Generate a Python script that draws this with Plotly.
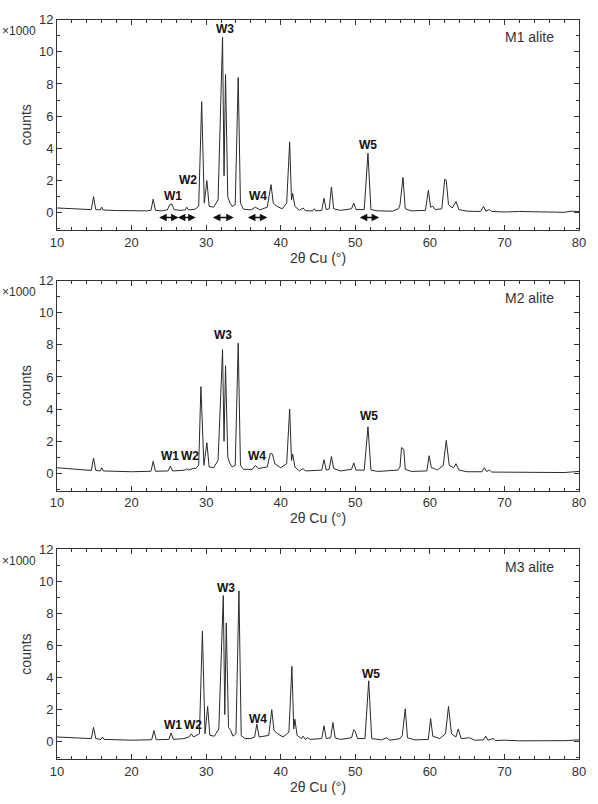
import plotly.graph_objects as go

# ---------------- data (counts in thousands) ----------------
m1_x = [10.0, 12.0, 13.5, 14.6, 14.9, 15.2, 15.8, 16.0, 16.2, 18.0, 20.0, 22.0, 22.6, 22.9, 23.2, 24.0,
        24.8, 25.1, 25.4, 25.7, 26.5, 27.2, 27.4, 27.6, 28.5, 29.0, 29.4, 29.75, 30.1, 30.4, 31.0, 31.6,
        32.2, 32.4, 32.6, 32.9, 33.2, 33.5, 33.9, 34.3, 34.6, 35.0, 36.0, 36.6, 37.2, 38.2, 38.7, 39.0,
        39.5, 40.2, 40.8, 41.2, 41.45, 41.6, 41.9, 42.5, 43.0, 43.3, 44.3, 44.5, 44.7, 45.5, 45.8, 46.1,
        46.5, 46.8, 47.1, 48.0, 49.5, 49.8, 50.1, 51.2, 51.7, 52.1, 53.0, 55.0, 55.8, 56.0, 56.4, 56.7,
        57.5, 59.4, 59.8, 60.1, 60.4, 60.7, 61.6, 62.0, 62.2, 62.5, 63.0, 63.5, 63.9, 65.0, 66.8, 67.2,
        67.5, 68.0, 68.3, 70.0, 72.0, 75.0, 78.0, 79.0, 80.0]
m1_y = [0.30, 0.28, 0.22, 0.20, 1.00, 0.20, 0.18, 0.35, 0.17, 0.14, 0.12, 0.12, 0.15, 0.85, 0.15, 0.12,
        0.18, 0.50, 0.55, 0.20, 0.15, 0.18, 0.35, 0.18, 0.22, 0.40, 6.90, 0.60, 2.00, 0.40, 0.35, 0.80,
        10.90, 2.30, 8.60, 1.00, 0.60, 0.40, 0.50, 8.40, 0.60, 0.22, 0.18, 0.35, 0.18, 0.35, 1.75, 0.60,
        0.40, 0.25, 0.60, 4.40, 0.80, 1.20, 0.40, 0.15, 0.30, 0.13, 0.12, 0.25, 0.12, 0.15, 0.90, 0.20,
        0.25, 1.60, 0.25, 0.15, 0.25, 0.60, 0.20, 0.20, 3.70, 0.20, 0.12, 0.10, 0.25, 0.50, 2.20, 0.25,
        0.12, 0.15, 1.40, 0.35, 0.40, 0.20, 0.25, 2.10, 2.00, 0.50, 0.30, 0.70, 0.20, 0.10, 0.08, 0.40,
        0.10, 0.20, 0.08, 0.05, 0.08, 0.05, 0.03, 0.10, 0.08]

m2_x = [10.0, 12.0, 14.6, 14.9, 15.2, 15.8, 16.0, 16.2, 18.0, 20.0, 22.6, 22.9, 23.2, 24.0, 24.9, 25.2,
        25.5, 27.2, 27.4, 27.6, 28.0, 28.2, 28.6, 29.0, 29.3, 29.7, 30.1, 30.4, 31.0, 31.6, 32.2, 32.4,
        32.6, 32.9, 33.2, 33.5, 33.9, 34.3, 34.6, 35.0, 36.2, 36.6, 37.0, 38.2, 38.6, 38.9, 39.2, 40.0,
        40.8, 41.2, 41.45, 41.6, 41.9, 42.5, 43.0, 43.3, 45.5, 45.8, 46.1, 46.5, 46.8, 47.1, 48.0, 49.5,
        49.8, 50.1, 51.2, 51.7, 52.1, 53.0, 55.7, 56.0, 56.2, 56.5, 56.7, 57.5, 59.6, 59.9, 60.2, 60.6,
        61.0, 61.8, 62.2, 62.6, 63.2, 63.5, 63.9, 65.0, 67.0, 67.3, 67.6, 68.0, 68.3, 72.0, 75.0, 78.0,
        80.0]
m2_y = [0.35, 0.28, 0.18, 0.95, 0.18, 0.15, 0.35, 0.15, 0.12, 0.10, 0.13, 0.75, 0.13, 0.12, 0.15, 0.45,
        0.15, 0.20, 0.30, 0.20, 0.25, 0.30, 0.30, 0.50, 5.40, 0.50, 1.90, 0.40, 0.35, 0.80, 7.70, 2.00,
        6.70, 1.00, 0.60, 0.40, 0.50, 8.10, 0.50, 0.25, 0.25, 0.50, 0.30, 0.40, 1.25, 1.20, 0.60, 0.35,
        0.60, 4.00, 0.80, 1.20, 0.40, 0.15, 0.30, 0.15, 0.20, 0.85, 0.20, 0.25, 1.05, 0.30, 0.15, 0.25,
        0.65, 0.20, 0.20, 2.90, 0.20, 0.12, 0.20, 0.40, 1.60, 1.50, 0.25, 0.12, 0.15, 1.10, 0.35, 0.30,
        0.20, 0.50, 2.05, 0.50, 0.35, 0.60, 0.20, 0.10, 0.10, 0.35, 0.12, 0.20, 0.08, 0.08, 0.05, 0.05,
        0.12]

m3_x = [10.0, 12.0, 14.6, 14.9, 15.2, 15.9, 16.1, 16.3, 18.0, 20.0, 22.7, 23.0, 23.3, 24.0, 25.0, 25.3,
        25.6, 27.0, 27.7, 28.0, 28.3, 29.1, 29.5, 29.85, 30.2, 30.5, 31.1, 31.7, 32.3, 32.5, 32.7, 33.0,
        33.3, 33.6, 34.0, 34.4, 34.7, 35.2, 36.0, 36.5, 36.8, 37.1, 38.4, 38.8, 39.1, 39.6, 40.3, 41.1,
        41.5, 41.75, 41.9, 42.2, 42.8, 43.0, 43.3, 43.6, 44.0, 45.5, 45.8, 46.1, 46.7, 47.0, 47.3, 48.0,
        49.5, 49.8, 50.0, 50.3, 51.3, 51.8, 52.2, 53.5, 54.2, 54.6, 56.0, 56.3, 56.7, 57.0, 58.0, 59.8,
        60.1, 60.4, 60.8, 61.3, 62.1, 62.5, 62.9, 63.5, 63.8, 64.2, 65.3, 66.0, 67.2, 67.5, 67.8, 68.5,
        68.8, 70.0, 72.0, 75.0, 78.0, 80.0]
m3_y = [0.30, 0.25, 0.20, 0.90, 0.20, 0.15, 0.30, 0.15, 0.12, 0.10, 0.13, 0.70, 0.13, 0.12, 0.15, 0.55,
        0.15, 0.20, 0.30, 0.50, 0.30, 0.50, 6.90, 0.50, 2.20, 0.40, 0.35, 0.80, 9.10, 1.70, 7.40, 0.90,
        0.70, 0.35, 0.50, 9.40, 0.40, 0.20, 0.20, 0.30, 1.10, 0.30, 0.40, 2.00, 0.70, 0.50, 0.30, 0.60,
        4.70, 0.80, 1.40, 0.40, 0.20, 0.35, 0.15, 0.25, 0.15, 0.20, 1.00, 0.20, 0.25, 1.20, 0.25, 0.15,
        0.25, 0.75, 0.65, 0.20, 0.20, 3.80, 0.20, 0.12, 0.25, 0.10, 0.20, 0.40, 2.05, 0.25, 0.12, 0.15,
        1.45, 0.35, 0.30, 0.20, 0.50, 2.20, 0.50, 0.30, 0.80, 0.20, 0.25, 0.10, 0.12, 0.35, 0.10, 0.20,
        0.08, 0.10, 0.06, 0.06, 0.07, 0.12]

sample_names = ["M1 alite", "M2 alite", "M3 alite"]

label_text = ["W1", "W2", "W3", "W4", "W5"]
m1_label_x = [25.5, 27.5, 32.5, 36.9, 51.7]
m1_label_y = [1.05, 2.05, 11.4, 1.05, 4.2]
m2_label_x = [25.2, 27.9, 32.3, 36.8, 51.8]
m2_label_y = [1.05, 1.05, 8.6, 1.05, 3.55]
m3_label_x = [25.5, 28.2, 32.6, 36.9, 52.1]
m3_label_y = [1.05, 1.05, 9.6, 1.4, 4.2]

arrow_start = [23.5, 26.0, 30.7, 35.4, 50.4]
arrow_end = [26.3, 28.6, 33.7, 38.2, 53.2]
arrow_y = -0.3

# ---------------- figure ----------------
series = [(m1_x, m1_y), (m2_x, m2_y), (m3_x, m3_y)]
labels = [(m1_label_x, m1_label_y), (m2_label_x, m2_label_y), (m3_label_x, m3_label_y)]
domains = [[0.7156, 0.9993], [0.3645, 0.6475], [0.0027, 0.2857]]

TXT = "#333333"
FONT = "Liberation Sans, Arial, sans-serif"

fig = go.Figure()
annotations = []
for i, (xs, ys) in enumerate(series):
    n = "" if i == 0 else str(i + 1)
    fig.add_trace(go.Scatter(x=xs, y=ys, mode="lines", xaxis="x" + n, yaxis="y" + n,
                             line=dict(color="#2a2a2a", width=1), showlegend=False))
    axcommon = dict(showline=True, linecolor=TXT, linewidth=1, mirror="allticks",
                    ticks="inside", ticklen=5, tickcolor=TXT, showgrid=False, zeroline=False,
                    tickfont=dict(family=FONT, size=13, color=TXT))
    fig.update_layout(**{
        "xaxis" + n: dict(range=[10, 80], dtick=10, tick0=10, anchor="y" + n,
                          minor=dict(dtick=2, ticks="inside", ticklen=3, tickcolor=TXT),
                          title=dict(text="2θ Cu (°)", font=dict(family=FONT, size=14, color=TXT), standoff=4),
                          **axcommon),
        "yaxis" + n: dict(range=[-1.07, 12], dtick=2, tick0=0, domain=domains[i], anchor="x" + n,
                          minor=dict(dtick=1, ticks="inside", ticklen=3, tickcolor=TXT),
                          title=dict(text="counts", font=dict(family=FONT, size=14, color=TXT), standoff=4),
                          **axcommon),
    })
    lx, ly = labels[i]
    for t, xv, yv in zip(label_text, lx, ly):
        annotations.append(dict(x=xv, y=yv, xref="x" + n, yref="y" + n, text="<b>" + t + "</b>",
                                showarrow=False, font=dict(family=FONT, size=12, color="#111"),
                                xanchor="center", yanchor="middle"))
    annotations.append(dict(x=73.3, y=10.9, xref="x" + n, yref="y" + n, text=sample_names[i],
                            showarrow=False, font=dict(family=FONT, size=14, color=TXT),
                            xanchor="center", yanchor="middle"))
    annotations.append(dict(x=-0.036, y=domains[i][1] - 0.016, xref="paper", yref="paper", text="×1000",
                            showarrow=False, font=dict(family=FONT, size=12, color=TXT),
                            xanchor="right", yanchor="middle"))
    if i == 0:
        for s, e in zip(arrow_start, arrow_end):
            annotations.append(dict(x=e, y=arrow_y, ax=s, ay=arrow_y, xref="x", yref="y",
                                    axref="x", ayref="y", text="", showarrow=True,
                                    arrowhead=2, arrowside="end+start", arrowsize=1,
                                    arrowwidth=1.5, arrowcolor="#111"))

fig.update_layout(width=598, height=804, margin=dict(l=57, r=12, t=15, b=40),
                  plot_bgcolor="white", paper_bgcolor="white", annotations=annotations,
                  font=dict(family=FONT, color=TXT))

fig.write_html("out.html")
